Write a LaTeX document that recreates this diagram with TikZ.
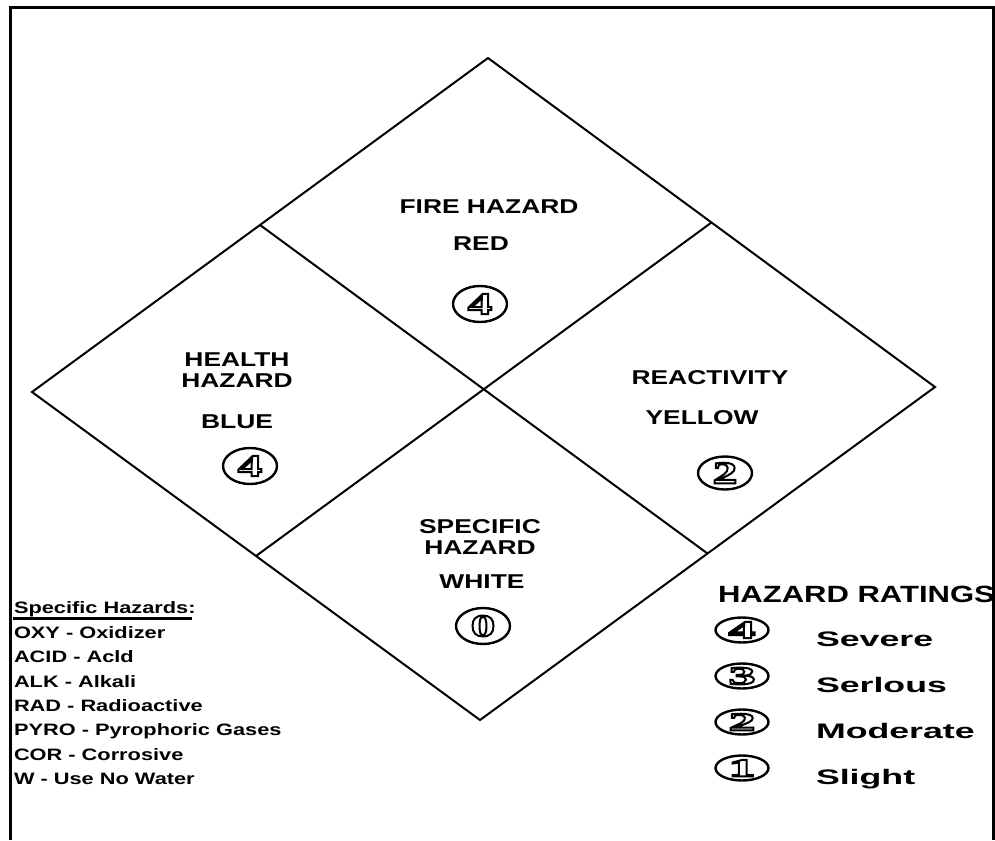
\documentclass[tikz,border=0pt]{standalone}
\usepackage{fontspec}
\setmainfont{Liberation Sans}[FakeStretch=1.32]
\newfontfamily\ratefont{Liberation Sans}[FakeStretch=1.7]
\newfontfamily\digitfont{Liberation Serif}[FakeStretch=1.6]
\newfontfamily\legdigitfont{Liberation Serif}[FakeStretch=2.2]
\usetikzlibrary{positioning,shapes.geometric,calc}

% outlined digit: white fill, black stroke
\newcommand{\hzdigit}[1]{\special{pdf:literal direct 2 Tr 2 w 1 g 0 G}#1\special{pdf:literal direct 0 Tr 0 g 0 G}}

\begin{document}
\begin{tikzpicture}[x=1pt, y=-1pt, line width=2pt,
    quad/.style={font=\bfseries\fontsize{20}{21}\selectfont, align=center, inner sep=0pt},
    legend/.style={font=\bfseries\fontsize{16.5}{18}\selectfont, anchor=base west, inner sep=0pt},
    rating/.style={draw, ellipse, line width=2.4pt, minimum width=54pt, minimum height=36pt, inner sep=0pt, font=\digitfont\bfseries\fontsize{31}{31}\selectfont},
    smallrating/.style={rating, minimum width=53pt, minimum height=25pt, font=\legdigitfont\bfseries\fontsize{25}{25}\selectfont},
    ratename/.style={font=\ratefont\bfseries\fontsize{21}{24}\selectfont, anchor=base west, inner sep=0pt}]
    \useasboundingbox (0,0) rectangle (995,840);

    % frame
    \draw[line width=3pt] (10,840) -- (10,8) -- (993,8) -- (993,840);

    % diamond
    \coordinate (top) at (488,58);
    \coordinate (right) at (935,387);
    \coordinate (bottom) at (480,720);
    \coordinate (left) at (32,392);
    \coordinate (topleft) at ($(top)!0.5!(left)$);
    \coordinate (topright) at ($(top)!0.5!(right)$);
    \coordinate (botleft) at ($(bottom)!0.5!(left)$);
    \coordinate (botright) at ($(bottom)!0.5!(right)$);
    \draw (top) -- (right) -- (bottom) -- (left) -- cycle;
    \draw (topleft) -- (botright);
    \draw (topright) -- (botleft);

    \node (fire) [quad] at (489,207) {FIRE HAZARD};
    \node (red) [quad] at (481,244) {RED};
    \node (firerate) [rating] at (480,304) {\hzdigit{4}};

    \node (health) [quad] at (237,370) {HEALTH\\HAZARD};
    \node (blue) [quad] at (237,422) {BLUE};
    \node (healthrate) [rating] at (250,466) {\hzdigit{4}};

    \node (react) [quad] at (710,378) {REACTIVITY};
    \node (yellow) [quad] at (702,418) {YELLOW};
    \node (reactrate) [rating, minimum height=33pt] at (725,473) {\hzdigit{2}};

    \node (specific) [quad] at (480,537) {SPECIFIC\\HAZARD};
    \node (white) [quad] at (482,582) {WHITE};
    \node (specrate) [rating] at (483,626) {\hzdigit{0}};

    % specific hazards list
    \node (spec) [legend] at (13,613) {Specific Hazards:};
    \draw[line width=2.5pt] (13,618.5) -- (192,618.5);
    \node (oxy) [legend] at (13,638) {OXY - Oxidizer};
    \node (acid) [legend] at (13,662) {ACID - Acld};
    \node (alk) [legend] at (13,687) {ALK - Alkali};
    \node (rad) [legend] at (13,711) {RAD - Radioactive};
    \node (pyro) [legend] at (13,735) {PYRO - Pyrophoric Gases};
    \node (cor) [legend] at (13,760) {COR - Corrosive};
    \node (water) [legend] at (13,784) {W - Use No Water};

    % hazard ratings
    \node (ratings) [legend, font=\bfseries\fontsize{23.5}{26}\selectfont] at (717,602) {HAZARD RATINGS};
    \node (r4) [smallrating] at (742,630) {\hzdigit{4}};
    \node (severe) [ratename] at (815,646) {Severe};
    \node (r3) [smallrating] at (742,676) {\hzdigit{3}};
    \node (serious) [ratename] at (815,692) {Serlous};
    \node (r2) [smallrating] at (742,722) {\hzdigit{2}};
    \node (moderate) [ratename] at (815,738) {Moderate};
    \node (r1) [smallrating] at (742,768) {\hzdigit{1}};
    \node (slight) [ratename] at (815,784) {Slight};
\end{tikzpicture}
\end{document}
